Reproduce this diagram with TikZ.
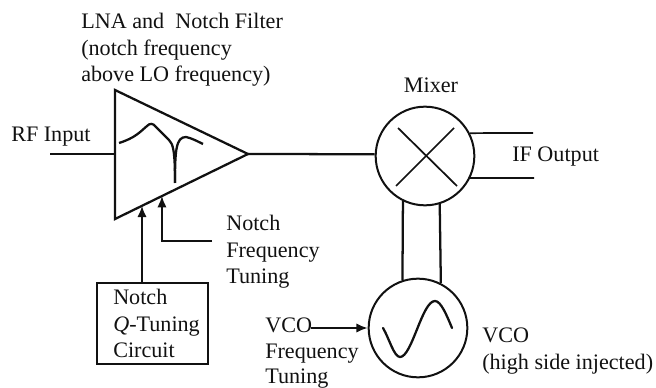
\documentclass[tikz,border=0pt]{standalone}
\usepackage{fontspec}
\setmainfont{Liberation Serif}
\usetikzlibrary{arrows.meta, calc}
\definecolor{inkdark}{HTML}{111111}
\tikzset{
  rfline/.style={inkdark, line width=1.7pt},
  thinline/.style={inkdark, line width=1.3pt},
  tuneline/.style={thinline, -{Latex[length=8.5pt,width=7pt]}},
  block/.style={circle, draw=inkdark, line width=1.5pt, minimum size=74pt, inner sep=0pt},
  lbl/.style={inkdark, inner sep=0pt, align=left, anchor=north west, font=\fontsize{16.6}{20}\selectfont}
}
\begin{document}
\begin{tikzpicture}[x=0.75pt, y=-0.75pt]
  \useasboundingbox (0,0) rectangle (656,388);

  % Amplifier corners
  \coordinate (lnaTop) at (115,90);
  \coordinate (lnaBot) at (115,219);
  \coordinate (lnaTip) at (248,154);
  \coordinate (lnaIn) at (115,154);
  \coordinate (qTip) at ($(lnaBot)!0.203!(lnaTip)$);
  \coordinate (notchTip) at ($(lnaBot)!0.353!(lnaTip)$);
  \draw[rfline, line join=miter] (lnaTop) -- (lnaTip) -- (lnaBot) -- cycle;

  % Filter response inside the amplifier
  \draw[rfline] (119,143) .. controls (135,138) and (140,132) .. (147,126) .. controls (150,123) and (153,123) .. (156,127) -- (169,140) .. controls (173,144) and (175,150) .. (175,183);
  \draw[rfline] (175,183) .. controls (175,150) and (176,137) .. (186,137) .. controls (191,138) and (197,141) .. (203,144);

  % Mixer and VCO
  \node[block] (mixer) at (425,156) {};
  \node[block] (vco) at (418,328) {};
  \draw[thinline] (398,128) -- (457,186);
  \draw[thinline] (454,128) -- (396,186);
  \draw[rfline, line cap=round, line join=round] (383,328) .. controls (389,338) and (394,357) .. (400,357) .. controls (412,357) and (422,301) .. (435,301) .. controls (441,301) and (447,316) .. (452,328);

  % Signal path
  \coordinate (rfFree) at (50,154);
  \coordinate (ifUpper) at (533,133);
  \coordinate (ifLower) at (534,178);
  \draw[rfline] (rfFree) -- (lnaIn);
  \draw[rfline] (lnaTip) -- (mixer.178);
  \draw[thinline] (mixer.27) -- (ifUpper);
  \draw[thinline] (mixer.-26) -- (ifLower);
  \draw[rfline] (mixer.244) -- (vco.108);
  \draw[rfline] (mixer.287) -- (vco.63);

  % Notch Q box
  \node[draw=inkdark, line width=1.5pt, minimum width=83pt, minimum height=60.5pt, inner sep=0pt] (qbox) at (152.5,323.5) {};
  \node[lbl] (qlabel) at (113,289) {Notch\\\textit{Q}-Tuning\\Circuit};

  % Tuning arrows
  \coordinate (notchFree) at (212,241);
  \coordinate (vcoFree) at (311,328);
  \draw[tuneline] (qTip |- qbox.north) -- (qTip);
  \draw[tuneline] (notchFree) -| (notchTip);
  \draw[tuneline] (vcoFree) -- (vco.west);

  % Labels
  \node[lbl] (lnalabel) at (81,13) {LNA and~ Notch Filter\\(notch frequency\\above LO frequency)};
  \node[lbl, anchor=west] (rflabel) at (11,137) {RF Input};
  \node[lbl] (notchlabel) at (226,215) {Notch\\Frequency\\Tuning};
  \node[lbl, anchor=center] (mixerlabel) at (431,85) {Mixer};
  \node[lbl, anchor=west] (iflabel) at (512,157) {IF Output};
  \node[lbl, font=\fontsize{16.6}{19.2}\selectfont] (vcotune) at (265,317.5) {VCO\\Frequency\\Tuning};
  \node[lbl] (vcolabel) at (482,328) {VCO\\(high side injected)};
\end{tikzpicture}
\end{document}
